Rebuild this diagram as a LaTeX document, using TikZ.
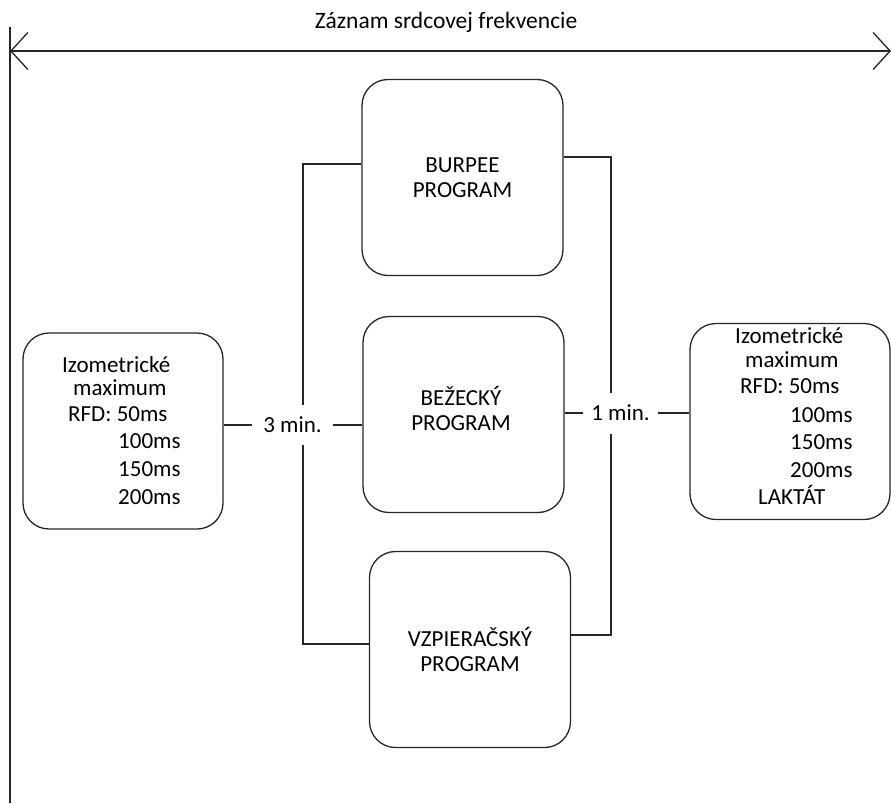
\documentclass[tikz,border=0pt]{standalone}
\usepackage{fontspec}
\setmainfont{Carlito}
\usetikzlibrary{arrows.meta}
\begin{document}
\begin{tikzpicture}[x=1pt,y=-1pt,
  ln/.style={line width=1.3pt,draw=black!85},
  prog/.style={ln,rounded corners=26pt,minimum width=201pt,minimum height=196pt,inner sep=0pt,align=center,font=\fontsize{23}{25}\selectfont},
  side/.style={ln,rounded corners=26pt,minimum width=200pt,minimum height=196pt,inner sep=0pt},
  txt/.style={anchor=base west,inner sep=0pt,font=\fontsize{23}{25}\selectfont},
  lab/.style={fill=white,inner sep=0pt,font=\fontsize{23}{25}\selectfont}]
\useasboundingbox (0,0) rectangle (891,803);
% time axis
\coordinate (vt) at (10,27);
\coordinate (vb) at (10,803);
\coordinate (al) at (10,51);
\coordinate (ar) at (891,51);
\draw[ln] (vt) -- (vb);
\draw[ln,{Straight Barb[length=17pt,width=37pt,line width=1.3pt]}-{Straight Barb[length=17pt,width=37pt,line width=1.3pt]}] (al) -- (ar);
\node[anchor=base,inner sep=0pt,font=\fontsize{23.5}{25}\selectfont] (title) at (446,28) {Záznam srdcovej frekvencie};
% program boxes
\node[prog] (bur) at (462.5,177.5) {BURPEE\\PROGRAM};
\node[prog] (bez) at (463.5,414.5) {};
\node[inner sep=0pt,align=center,font=\fontsize{23}{25}\selectfont] (bezt) at (461,408) {BEŽECKÝ\\PROGRAM};
\node[prog] (vz) at (470,649.5) {VZPIERAČSKÝ\\PROGRAM};
% side boxes
\node[side] (lb) at (123,431) {};
\node[side] (rb) at (790,421.5) {};
\node[txt] (l1) at (62,372) {Izometrické};
\node[txt] (l2) at (73,395) {maximum};
\node[txt] (l3) at (68,421) {RFD: 50ms};
\node[txt] (l4) at (118,448) {100ms};
\node[txt] (l5) at (118,476) {150ms};
\node[txt] (l6) at (118,504) {200ms};
\node[txt] (r1) at (735,343) {Izometrické};
\node[txt] (r2) at (745,367) {maximum};
\node[txt] (r3) at (740,393) {RFD: 50ms};
\node[txt] (r4) at (790,422) {100ms};
\node[txt] (r5) at (790,449) {150ms};
\node[txt] (r6) at (790,477) {200ms};
\node[txt] (r7) at (758,504) {LAKTÁT};
% buses
\coordinate (lbt) at (303,164);
\coordinate (lbb) at (303,644);
\coordinate (rbt) at (611,157);
\coordinate (rbb) at (611,635);
\coordinate (c3) at (292.5,425);
\coordinate (c1) at (620.5,413);
\draw[ln] (bur.west |- lbt) -- (lbt) -- (lbb) -- (vz.west |- lbb);
\draw[ln] (bur.east |- rbt) -- (rbt) -- (rbb) -- (vz.east |- rbb);
\draw[ln] (lb.east |- c3) -- (bez.west |- c3);
\draw[ln] (bez.east |- c1) -- (rb.west |- c1);
\node[lab,minimum width=81pt,minimum height=40pt] (m3) at (c3) {3 min.};
\node[lab,minimum width=75pt,minimum height=41pt] (m1) at (c1) {1 min.};
\end{tikzpicture}
\end{document}
